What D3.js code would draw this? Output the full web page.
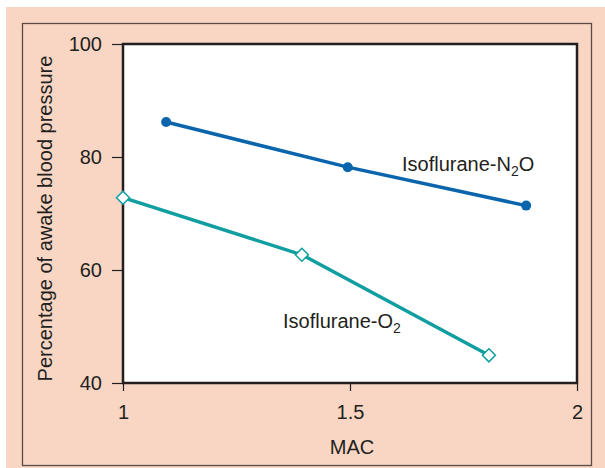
<!DOCTYPE html>
<html>
<head>
<meta charset="utf-8">
<script src="https://cdn.jsdelivr.net/npm/d3@7"></script>
<style>
  body { margin: 0; background: #fff; }
  text { font-family: "Liberation Sans", Arial, sans-serif; fill: #231f20; }
</style>
</head>
<body>
<div id="chart"></div>
<script>
// MAC values and percentage of awake blood pressure
const n2oMac = [1.095, 1.495, 1.888];
const n2oPct = [86.2, 78.2, 71.4];
const o2Mac = [1.0, 1.394, 1.806];
const o2Pct = [72.8, 62.7, 44.9];
const xTicks = [1, 1.5, 2];
const yTicks = [40, 60, 80, 100];

const width = 605, height = 468;
const plot = { left: 123, top: 44, right: 577, bottom: 383 };
const fontSize = '20px';

const svg = d3.select('#chart')
  .append('svg')
  .attr('width', width)
  .attr('height', height);

// peach background and outer frame
svg.append('rect')
  .attr('x', 6).attr('y', 7)
  .attr('width', width - 6).attr('height', height - 7)
  .attr('fill', '#f8d6c3');
svg.append('rect')
  .attr('x', 22.5).attr('y', 23.5)
  .attr('width', 569).attr('height', 442)
  .attr('fill', 'none')
  .attr('stroke', '#5b4a45')
  .attr('stroke-width', 1.3);

const x = d3.scaleLinear().domain([1, 2]).range([plot.left, plot.right]);
const y = d3.scaleLinear().domain([40, 100]).range([plot.bottom, plot.top]);

// plot area
svg.append('rect')
  .attr('x', plot.left).attr('y', plot.top)
  .attr('width', plot.right - plot.left).attr('height', plot.bottom - plot.top)
  .attr('fill', '#fff')
  .attr('stroke', '#231f20')
  .attr('stroke-width', 2.5);

// axes
const xAxis = svg.append('g')
  .attr('transform', `translate(0, ${plot.bottom})`)
  .call(d3.axisBottom(x).tickValues(xTicks).tickSize(8).tickPadding(14)
    .tickFormat(d => d3.format('')(d)));
const yAxis = svg.append('g')
  .attr('transform', `translate(${plot.left}, 0)`)
  .call(d3.axisLeft(y).tickValues(yTicks).tickSize(11).tickPadding(10));

[xAxis, yAxis].forEach(a => {
  a.select('.domain').remove();
  a.selectAll('line').attr('stroke', '#231f20').attr('stroke-width', 1.2);
  a.selectAll('text')
    .style('font-size', fontSize)
    .style('font-family', '"Liberation Sans", Arial, sans-serif')
    .attr('fill', '#231f20');
});

// axis titles
svg.append('text')
  .attr('x', 352).attr('y', 454)
  .attr('text-anchor', 'middle')
  .style('font-size', fontSize)
  .text('MAC');
svg.append('text')
  .attr('transform', `translate(51.5, 218.5) rotate(-90)`)
  .attr('text-anchor', 'middle')
  .style('font-size', fontSize)
  .text('Percentage of awake blood pressure');

const line = d3.line().x(d => x(d[0])).y(d => y(d[1]));

// Isoflurane-N2O
const n2o = n2oMac.map((m, i) => [m, n2oPct[i]]);
svg.append('path')
  .datum(n2o)
  .attr('d', line)
  .attr('fill', 'none')
  .attr('stroke', '#0b65ac')
  .attr('stroke-width', 3.5);
svg.selectAll('.n2o-pt')
  .data(n2o)
  .enter().append('circle')
  .attr('class', 'n2o-pt')
  .attr('cx', d => x(d[0]))
  .attr('cy', d => y(d[1]))
  .attr('r', 5)
  .attr('fill', '#0b65ac');

// Isoflurane-O2
const o2 = o2Mac.map((m, i) => [m, o2Pct[i]]);
svg.append('path')
  .datum(o2)
  .attr('d', line)
  .attr('fill', 'none')
  .attr('stroke', '#119ea1')
  .attr('stroke-width', 3.5);
svg.selectAll('.o2-pt')
  .data(o2)
  .enter().append('path')
  .attr('class', 'o2-pt')
  .attr('transform', d => `translate(${x(d[0])}, ${y(d[1])})`)
  .attr('d', 'M0,-6.5L6.5,0L0,6.5L-6.5,0Z')
  .attr('fill', '#fff')
  .attr('stroke', '#119ea1')
  .attr('stroke-width', 1.5);

// series labels
const lab1 = svg.append('text')
  .attr('x', 402).attr('y', 170.5)
  .style('font-size', fontSize);
lab1.append('tspan').text('Isoflurane-N');
lab1.append('tspan').attr('dy', 5).style('font-size', '14px').text('2');
lab1.append('tspan').attr('dy', -5).text('O');

const lab2 = svg.append('text')
  .attr('x', 283).attr('y', 327.5)
  .style('font-size', fontSize);
lab2.append('tspan').text('Isoflurane-O');
lab2.append('tspan').attr('dy', 5).style('font-size', '14px').text('2');
</script>
</body>
</html>
